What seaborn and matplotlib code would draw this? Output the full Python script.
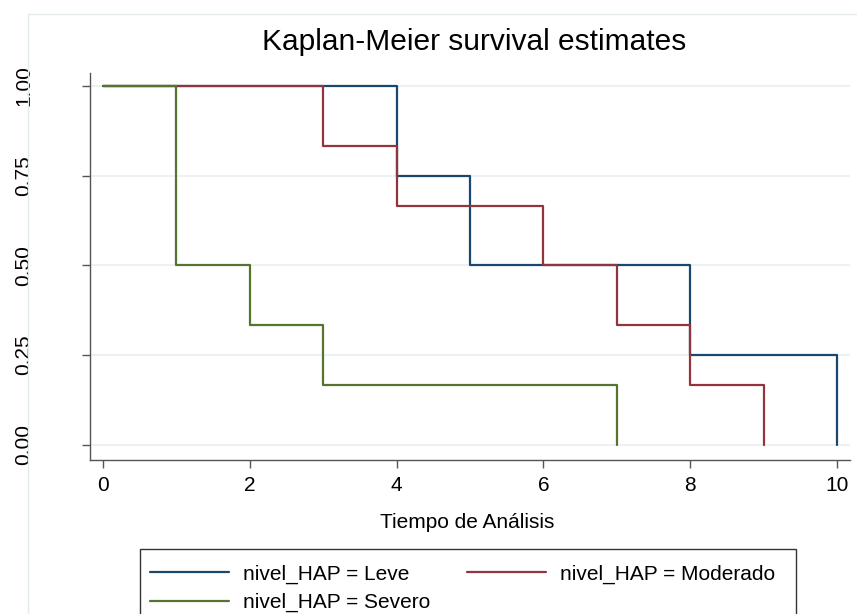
import pandas as pd
import matplotlib
matplotlib.use("Agg")
import matplotlib.pyplot as plt
from matplotlib.patches import Rectangle
import seaborn as sns

# -------------------------------
# Kaplan-Meier step values per group
# -------------------------------
groups = ["nivel_HAP = Leve", "nivel_HAP = Moderado", "nivel_HAP = Severo"]

times_leve = [0, 4, 5, 8, 10]
surv_leve = [1.0, 0.75, 0.5, 0.25, 0.0]

times_mod = [0, 3, 4, 6, 7, 8, 9]
surv_mod = [1.0, 0.8333, 0.6667, 0.5, 0.3333, 0.1667, 0.0]

times_sev = [0, 1, 2, 3, 7]
surv_sev = [1.0, 0.5, 0.3333, 0.1667, 0.0]

x_ticks = [0, 2, 4, 6, 8, 10]
y_ticks = [0.0, 0.25, 0.5, 0.75, 1.0]
y_ticklabels = ["0.00", "0.25", "0.50", "0.75", "1.00"]

colors = ["#1a476f", "#90353b", "#55752f"]

df = pd.concat([
    pd.DataFrame({"t": times_leve, "s": surv_leve, "g": groups[0]}),
    pd.DataFrame({"t": times_mod, "s": surv_mod, "g": groups[1]}),
    pd.DataFrame({"t": times_sev, "s": surv_sev, "g": groups[2]}),
])

sns.set_style("white")
plt.rcParams["font.family"] = ["Liberation Sans", "DejaVu Sans"]
plt.rcParams["text.color"] = "black"

W, H = 857, 614
fig = plt.figure(figsize=(W / 100, H / 100), dpi=100)
ax = fig.add_axes([90 / W, 1 - 460 / H, 760 / W, 387 / H])

sns.lineplot(
    data=df, x="t", y="s", hue="g", hue_order=groups,
    palette=colors, drawstyle="steps-post", estimator=None,
    linewidth=1.6, legend=False, ax=ax
)

ax.set_xlim(-0.177, 10.177)
ax.set_ylim(-0.042, 1.036)
ax.set_xticks(x_ticks)
ax.set_xticklabels([str(v) for v in x_ticks], fontsize=15)
ax.set_yticks(y_ticks)
ax.set_yticklabels(y_ticklabels, fontsize=15, rotation=90, va="center")
ax.set_xlabel("")
ax.set_ylabel("")

ax.yaxis.grid(True, color="#eaf1f3", linewidth=1.3)
ax.xaxis.grid(False)
ax.set_axisbelow(True)

for side in ["top", "right"]:
    ax.spines[side].set_visible(False)
for side in ["left", "bottom"]:
    ax.spines[side].set_color("#555555")
    ax.spines[side].set_linewidth(1.0)

ax.tick_params(axis="both", direction="out", length=5.8, width=1.0,
               color="#555555", labelcolor="black", bottom=True, left=True)
ax.tick_params(axis="y", pad=35)
ax.tick_params(axis="x", pad=6)

# titles
fig.text(474.5 / W, 1 - 42 / H, "Kaplan-Meier survival estimates",
         ha="center", va="center", fontsize=21.5, color="black")
fig.text(467.5 / W, 1 - 522 / H, "Tiempo de Análisis",
         ha="center", va="center", fontsize=15, color="black")

# outer graph region border (cropped)
fig.add_artist(Rectangle((28 / W, -0.5), 2.0, 0.5 + 1 - 14 / H,
                         transform=fig.transFigure, fill=False,
                         edgecolor="#e3ebee", linewidth=1.0))

# legend box (runs past the bottom edge, as in the reference)
fig.add_artist(Rectangle((140 / W, -0.2), 656 / W, 0.2 + 1 - 549 / H,
                         transform=fig.transFigure, fill=False,
                         edgecolor="#333333", linewidth=1.0))

lines = ax.get_lines()[:3]
handles = [lines[0], lines[2], lines[1]]
labels = [groups[0], groups[2], groups[1]]
leg = fig.legend(
    handles, labels, loc="upper left",
    bbox_to_anchor=(134 / W, 1 - 549 / H), bbox_transform=fig.transFigure,
    ncol=2, fontsize=15, frameon=False,
    handlelength=3.8, handletextpad=0.67, columnspacing=1.76,
    borderpad=0.75, labelspacing=0.45, borderaxespad=0
)
for t in leg.get_texts():
    t.set_color("black")

fig.savefig("out.png", dpi=100)
plt.close()
